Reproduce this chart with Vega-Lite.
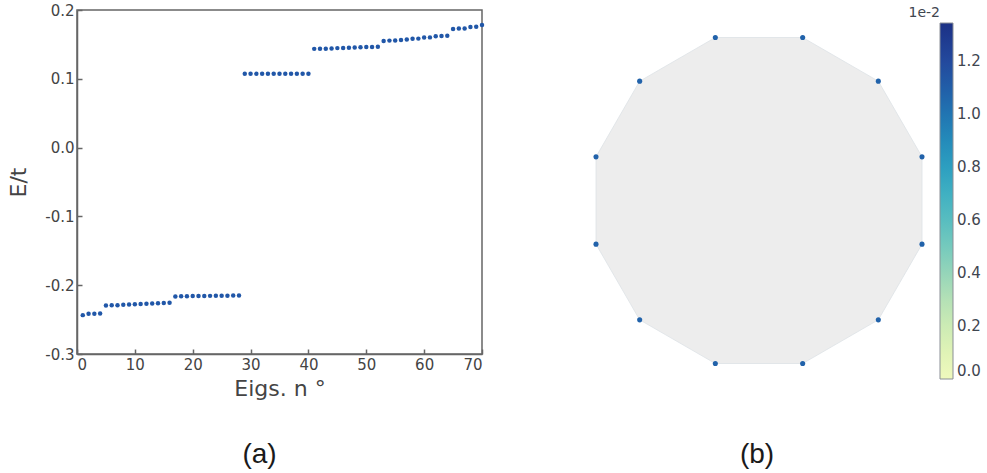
{
  "$schema": "https://vega.github.io/schema/vega-lite/v6.json",
  "padding": {"left": 6, "top": 2, "right": 0, "bottom": 0},
  "background": "white",
  "config": {
    "font": "DejaVu Sans",
    "view": {"stroke": null},
    "concat": {"spacing": 108}
  },
  "hconcat": [
    {
      "width": 405,
      "height": 344,
      "view": {"stroke": "#666666", "strokeWidth": 1.5},
      "data": {
        "values": [
          {"n": 1, "E": -0.2435}, {"n": 2, "E": -0.2415}, {"n": 3, "E": -0.2415}, {"n": 4, "E": -0.2412},
          {"n": 5, "E": -0.2294}, {"n": 6, "E": -0.2292}, {"n": 7, "E": -0.229}, {"n": 8, "E": -0.2285},
          {"n": 9, "E": -0.2282}, {"n": 10, "E": -0.2278}, {"n": 11, "E": -0.2274}, {"n": 12, "E": -0.227},
          {"n": 13, "E": -0.2267}, {"n": 14, "E": -0.2262}, {"n": 15, "E": -0.226}, {"n": 16, "E": -0.2256},
          {"n": 17, "E": -0.2164}, {"n": 18, "E": -0.2162}, {"n": 19, "E": -0.216}, {"n": 20, "E": -0.2158},
          {"n": 21, "E": -0.2157}, {"n": 22, "E": -0.2156}, {"n": 23, "E": -0.2155}, {"n": 24, "E": -0.2154},
          {"n": 25, "E": -0.2153}, {"n": 26, "E": -0.2152}, {"n": 27, "E": -0.2151}, {"n": 28, "E": -0.215},
          {"n": 29, "E": 0.1072}, {"n": 30, "E": 0.1072}, {"n": 31, "E": 0.1072}, {"n": 32, "E": 0.1072},
          {"n": 33, "E": 0.1072}, {"n": 34, "E": 0.1072}, {"n": 35, "E": 0.1072}, {"n": 36, "E": 0.1072},
          {"n": 37, "E": 0.1072}, {"n": 38, "E": 0.1072}, {"n": 39, "E": 0.1072}, {"n": 40, "E": 0.1072},
          {"n": 41, "E": 0.1435}, {"n": 42, "E": 0.1436}, {"n": 43, "E": 0.1437}, {"n": 44, "E": 0.1442},
          {"n": 45, "E": 0.1446}, {"n": 46, "E": 0.1447}, {"n": 47, "E": 0.1451}, {"n": 48, "E": 0.1456},
          {"n": 49, "E": 0.1457}, {"n": 50, "E": 0.1461}, {"n": 51, "E": 0.1462}, {"n": 52, "E": 0.1465},
          {"n": 53, "E": 0.1551}, {"n": 54, "E": 0.1555}, {"n": 55, "E": 0.1556}, {"n": 56, "E": 0.1564},
          {"n": 57, "E": 0.157}, {"n": 58, "E": 0.1582}, {"n": 59, "E": 0.1584}, {"n": 60, "E": 0.16},
          {"n": 61, "E": 0.1602}, {"n": 62, "E": 0.162}, {"n": 63, "E": 0.1622}, {"n": 64, "E": 0.1627},
          {"n": 65, "E": 0.1725}, {"n": 66, "E": 0.173}, {"n": 67, "E": 0.1731}, {"n": 68, "E": 0.1754},
          {"n": 69, "E": 0.1755}, {"n": 70, "E": 0.1783}
        ]
      },
      "mark": {"type": "circle", "size": 20, "color": "#2157a8", "opacity": 1},
      "encoding": {
        "x": {
          "field": "n", "type": "quantitative",
          "scale": {"domain": [0, 70], "nice": false},
          "axis": {
            "title": "Eigs. n °", "values": [0, 10, 20, 30, 40, 50, 60, 70],
            "grid": false, "domainColor": "#666666", "domainWidth": 1.5,
            "tickColor": "#666666", "tickWidth": 1.5, "tickSize": -5,
            "labelFontSize": 15, "labelColor": "#444444", "labelPadding": 8,
            "titleFontSize": 22, "titleFontWeight": "normal", "titleColor": "#444444", "titlePadding": 6
          }
        },
        "y": {
          "field": "E", "type": "quantitative",
          "scale": {"domain": [-0.3, 0.2], "nice": false},
          "axis": {
            "title": "E/t", "values": [-0.3, -0.2, -0.1, 0, 0.1, 0.2],
            "labelExpr": "replace(format(datum.value, '.1f'), '\u2212', '-')",
            "grid": false, "domainColor": "#666666", "domainWidth": 1.5,
            "tickColor": "#666666", "tickWidth": 1.5, "tickSize": -5,
            "labelFontSize": 15, "labelColor": "#444444", "labelPadding": 8,
            "titleFontSize": 22, "titleFontWeight": "normal", "titleColor": "#444444", "titlePadding": 14
          }
        }
      },
      "title": {
        "text": "(a)", "orient": "bottom", "anchor": "middle", "frame": "group", "dx": -20,
        "offset": 42, "font": "Liberation Sans", "fontSize": 28, "fontWeight": "normal", "color": "#1a1a1a"
      }
    },
    {
      "width": 326,
      "height": 381,
      "view": {"stroke": null},
      "projection": {"type": "identity", "reflectY": true},
      "layer": [
        {
          "data": {
            "values": [
              {"type": "Feature", "properties": {"name": "dodecagon"}, "geometry": {"type": "Polygon", "coordinates": [[
                [0.9659, 0.2588], [0.7071, 0.7071], [0.2588, 0.9659], [-0.2588, 0.9659], [-0.7071, 0.7071], [-0.9659, 0.2588],
                [-0.9659, -0.2588], [-0.7071, -0.7071], [-0.2588, -0.9659], [0.2588, -0.9659], [0.7071, -0.7071], [0.9659, -0.2588],
                [0.9659, 0.2588]
              ]]}}
            ]
          },
          "mark": {"type": "geoshape", "fill": "#ededed", "stroke": "#dde2e6", "strokeWidth": 0.8},
          "encoding": {}
        },
        {
          "data": {
            "values": [
              {"x": 0.9659, "y": 0.2588, "v": 1.08}, {"x": 0.7071, "y": 0.7071, "v": 1.08}, {"x": 0.2588, "y": 0.9659, "v": 1.08},
              {"x": -0.2588, "y": 0.9659, "v": 1.08}, {"x": -0.7071, "y": 0.7071, "v": 1.08}, {"x": -0.9659, "y": 0.2588, "v": 1.08},
              {"x": -0.9659, "y": -0.2588, "v": 1.08}, {"x": -0.7071, "y": -0.7071, "v": 1.08}, {"x": -0.2588, "y": -0.9659, "v": 1.08},
              {"x": 0.2588, "y": -0.9659, "v": 1.08}, {"x": 0.7071, "y": -0.7071, "v": 1.08}, {"x": 0.9659, "y": -0.2588, "v": 1.08}
            ]
          },
          "mark": {"type": "circle", "size": 26, "opacity": 1},
          "encoding": {
            "longitude": {"field": "x", "type": "quantitative"},
            "latitude": {"field": "y", "type": "quantitative"},
            "color": {
              "field": "v", "type": "quantitative",
              "scale": {"scheme": "yellowgreenblue", "domain": [0, 1.345]},
              "legend": {
                "title": "1e-2", "orient": "none", "direction": "vertical", "legendX": 832, "legendY": -4,
                "gradientLength": 356, "gradientThickness": 13,
                "gradientStrokeColor": "#8a8f96", "gradientStrokeWidth": 1,
                "values": [0, 0.2, 0.4, 0.6, 0.8, 1.0, 1.2], "format": ".1f",
                "labelFontSize": 15, "labelColor": "#3f4650", "labelOffset": 4,
                "titleFontSize": 14, "titleFontWeight": "normal", "titleColor": "#3f4650",
                "titleAlign": "right", "titleAnchor": "start", "titlePadding": 3, "padding": 0
              }
            }
          }
        }
      ],
      "title": {
        "text": "(b)", "orient": "bottom", "anchor": "middle", "frame": "group", "dx": -2,
        "offset": 50, "font": "Liberation Sans", "fontSize": 28, "fontWeight": "normal", "color": "#1a1a1a"
      }
    }
  ]
}
